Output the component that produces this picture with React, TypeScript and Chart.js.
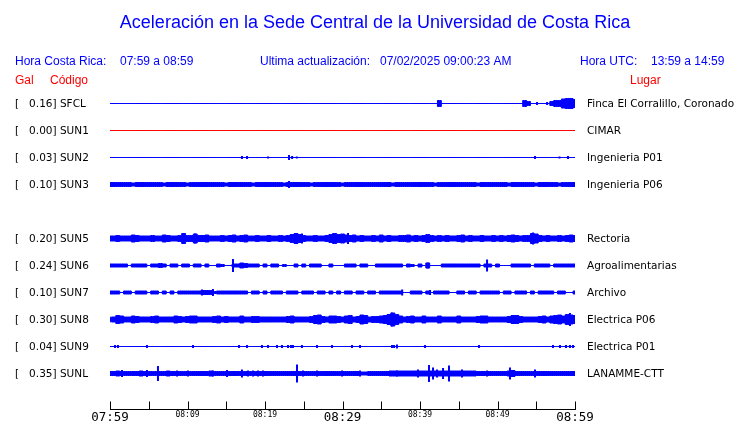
import { useEffect, useRef } from 'react';
import { Chart, registerables } from 'chart.js';

Chart.register(...registerables);

// ---------- text ----------
const TITLE = 'Aceleración en la Sede Central de la Universidad de Costa Rica';
const HDR_LOCAL_LABEL = 'Hora Costa Rica:';
const HDR_LOCAL_RANGE = '07:59 a 08:59';
const HDR_UPDATE_LABEL = 'Ultima actualización:';
const HDR_UPDATE_VALUE = '07/02/2025 09:00:23 AM';
const HDR_UTC_LABEL = 'Hora UTC:';
const HDR_UTC_RANGE = '13:59 a 14:59';
const COL_GAL = 'Gal';
const COL_CODE = 'Código';
const COL_PLACE = 'Lugar';

// ---------- stations ----------
const STATIONS = ['SFCL', 'SUN1', 'SUN2', 'SUN3', 'SUN5', 'SUN6', 'SUN7', 'SUN8', 'SUN9', 'SUNL'];
const PEAK_GAL = ['0.16', '0.00', '0.03', '0.10', '0.20', '0.24', '0.10', '0.30', '0.04', '0.35'];
const PLACES = ['Finca El Corralillo, Coronado', 'CIMAR', 'Ingenieria P01', 'Ingenieria P06', 'Rectoria',
  'Agroalimentarias', 'Archivo', 'Electrica P06', 'Electrica P01', 'LANAMME-CTT'];
const ROWS = [0, 1, 2, 3, 5, 6, 7, 8, 9, 10];
const TRACE_COLORS = ['#0000ff', '#ff0000', '#0000ff', '#0000ff', '#0000ff', '#0000ff', '#0000ff', '#0000ff', '#0000ff', '#0000ff'];

// ---------- time axis (minutes after 07:59) ----------
const TICK_MINUTES = [0, 5, 10, 15, 20, 25, 30, 35, 40, 45, 50, 55, 60];
const TICK_LABELS = ['07:59', '', '08:09', '', '08:19', '', '08:29', '', '08:39', '', '08:49', '', '08:59'];
const MAJOR_TICKS = ['07:59', '08:29', '08:59'];
const SAMPLE_STEP_MIN = 0.5;

// ---------- envelopes (half amplitude, trace units) sampled every 0.5 min ----------
const SFCL_AMP = [
  0, 0, 0, 0, 0, 0, 0, 0, 0, 0,
  0, 0, 0, 0, 0, 0, 0, 0, 0, 0,
  0, 0, 0, 0, 0, 0, 0, 0, 0, 0,
  0, 0, 0, 0, 0, 0, 0, 0, 0, 0,
  0, 0, 0, 0, 0, 0, 0, 0, 0, 0,
  0, 0, 0, 0, 0, 0, 0, 0, 0, 0,
  0, 0, 0, 0, 0, 0, 0, 0, 0, 0,
  0, 0, 0, 0, 0, 0, 0, 0, 0, 0,
  0, 0, 0, 0, 0, 3, 0, 0, 0, 0,
  0, 0, 0, 0, 0, 0, 0, 0, 0, 0,
  0, 0, 0, 0, 0, 0, 0, 3, 2, 0,
  0, 0, 0, 0, 2, 3, 3, 4.5, 5, 5,
  4,
];
const SUN1_AMP = [
  0, 0, 0, 0, 0, 0, 0, 0, 0, 0,
  0, 0, 0, 0, 0, 0, 0, 0, 0, 0,
  0, 0, 0, 0, 0, 0, 0, 0, 0, 0,
  0, 0, 0, 0, 0, 0, 0, 0, 0, 0,
  0, 0, 0, 0, 0, 0, 0, 0, 0, 0,
  0, 0, 0, 0, 0, 0, 0, 0, 0, 0,
  0, 0, 0, 0, 0, 0, 0, 0, 0, 0,
  0, 0, 0, 0, 0, 0, 0, 0, 0, 0,
  0, 0, 0, 0, 0, 0, 0, 0, 0, 0,
  0, 0, 0, 0, 0, 0, 0, 0, 0, 0,
  0, 0, 0, 0, 0, 0, 0, 0, 0, 0,
  0, 0, 0, 0, 0, 0, 0, 0, 0, 0,
  0,
];
const SUN2_AMP = [
  0, 0, 0, 0, 0, 0, 0, 0, 0, 0,
  0, 0, 0, 0, 0, 0, 0, 0, 0, 0,
  0, 0, 0, 0, 0, 0, 0, 0, 0, 0,
  0, 0, 0, 0, 0, 0, 0, 0, 0, 0,
  0, 0, 0, 0, 0, 0, 0, 0, 0, 0,
  0, 0, 0, 0, 0, 0, 0, 0, 0, 0,
  0, 0, 0, 0, 0, 0, 0, 0, 0, 0,
  0, 0, 0, 0, 0, 0, 0, 0, 0, 0,
  0, 0, 0, 0, 0, 0, 0, 0, 0, 0,
  0, 0, 0, 0, 0, 0, 0, 0, 0, 0,
  0, 0, 0, 0, 0, 0, 0, 0, 0, 0,
  0, 0, 0, 0, 0, 0, 0, 0, 0, 0,
  0,
];
const SUN3_AMP = [
  2, 2, 2, 2, 2, 2, 1.5, 2, 2, 2,
  2, 2, 2, 2, 1.5, 2, 2, 2, 2, 2,
  1.5, 2, 2, 2, 2, 2, 2, 2, 2, 2,
  1.5, 2, 2, 2, 2, 2, 2, 1.5, 2, 2,
  2, 2, 2, 2, 2, 1.5, 2, 2, 2, 2,
  2, 2, 1.5, 2, 2, 2, 2, 2, 2, 2,
  1.5, 2, 2, 2, 2, 2, 2, 2, 2, 2,
  2, 2, 2, 1.5, 2, 2, 2, 2, 2, 2,
  2, 2, 2, 2, 1.5, 2, 2, 2, 2, 2,
  2, 2, 2, 2, 2, 1.5, 2, 2, 2, 2,
  2, 2, 2, 1.5, 2, 2, 2, 2, 2, 2,
  1.5, 2, 2, 2, 2, 2, 1.5, 2, 2, 2,
  2,
];
const SUN5_AMP = [
  2.5, 2.5, 3, 2.5, 2.5, 2.5, 3.5, 3, 2.5, 2.5,
  2.5, 3, 2.5, 2.5, 3.5, 3, 2.5, 2.5, 3, 5,
  3, 3, 4.5, 3, 3, 3.5, 2.5, 2.5, 2.5, 3,
  2.5, 3, 3.5, 2.5, 3, 3.5, 2.5, 2.5, 3, 2.5,
  2.5, 3, 2.5, 2.5, 3, 2.5, 3, 4, 5, 4,
  3, 2.5, 2.5, 3, 2.5, 2.5, 3, 4, 5, 4,
  4.5, 3.5, 3, 3.5, 2.5, 3, 2.5, 2.5, 3, 2.5,
  3.5, 2.5, 3, 2.5, 2.5, 3, 3, 3.5, 2.5, 3,
  2.5, 3, 4, 3, 2.5, 3, 2.5, 3, 2.5, 2.5,
  3, 3.5, 2.5, 3, 2.5, 2.5, 3, 2.5, 2.5, 3,
  2.5, 3, 2.5, 3, 3.5, 3, 2.5, 3, 3, 5,
  4.5, 3, 2.5, 3, 2.5, 2.5, 3, 2.5, 3, 3.5,
  3,
];
const SUN6_AMP = [
  1.5, 1.5, 1.5, 1.5, 1.5, 0, 1.5, 1.5, 1.5, 1.5,
  0, 1.5, 1.5, 2, 1.5, 0, 1.5, 1.5, 0, 1.5,
  1.5, 0, 1.5, 1.5, 0, 1.5, 0, 0, 1.5, 1,
  0, 0, 1.5, 1.5, 2.5, 2, 1.5, 1.5, 1.5, 0,
  1.5, 0, 1.5, 1.5, 0, 1, 0, 0, 1.5, 0,
  1.5, 0, 1.5, 1.5, 1.5, 0, 0, 1.5, 0, 0,
  0, 1.5, 1.5, 1.5, 0, 1.5, 1.5, 0, 0, 1.5,
  1.5, 1.5, 1.5, 1.5, 1.5, 1.5, 0, 1.5, 1, 0,
  1.5, 0, 2.5, 0, 0, 0, 1.5, 1.5, 1.5, 1.5,
  1.5, 1.5, 1.5, 1.5, 1.5, 1.5, 0, 1.5, 1.5, 0,
  1.5, 0, 0, 0, 1.5, 1.5, 1.5, 1.5, 1.5, 0,
  1.5, 1.5, 1.5, 1.5, 0, 1.5, 1.5, 1.5, 1.5, 1.5,
  1.5,
];
const SUN7_AMP = [
  1.5, 1.5, 1.5, 0, 1.5, 1.5, 0, 1.5, 1.5, 1.5,
  0, 1.5, 1.5, 0, 1.5, 0, 1.5, 0, 1.5, 1.5,
  1.5, 1.5, 1.5, 1.5, 2, 2, 2, 1, 1.5, 1.5,
  1.5, 1.5, 1.5, 1.5, 1.5, 1.5, 0, 1.5, 1.5, 0,
  1.5, 0, 1.5, 1.5, 1.5, 0, 1.5, 1.5, 1.5, 0,
  1.5, 1.5, 1.5, 0, 1.5, 1.5, 0, 1.5, 0, 1.5,
  0, 1.5, 1.5, 0, 1.5, 1.5, 0, 1.5, 1.5, 0,
  1.5, 1.5, 1.5, 1.5, 1.5, 1.5, 0, 0, 1.5, 1.5,
  1.5, 0, 1.5, 0, 1.5, 1.5, 1.5, 1.5, 0, 0,
  1.5, 1.5, 0, 1.5, 1.5, 0, 1.5, 1.5, 1.5, 1.5,
  1.5, 0, 1.5, 1.5, 0, 1.5, 1.5, 1.5, 0, 1.5,
  0, 1.5, 1.5, 1.5, 1.5, 0, 1.5, 1.5, 0, 0,
  1.5,
];
const SUN8_AMP = [
  2.3, 2.5, 4, 3.5, 2.5, 2.5, 3.5, 3, 2.5, 2.5,
  2.5, 3, 3.5, 2.5, 2.5, 2.5, 2.5, 3.5, 3, 2.5,
  3, 3.5, 3.5, 2.5, 2.5, 2.5, 2.5, 3, 3.5, 2.5,
  3, 2.5, 2.5, 2.5, 3.5, 2.5, 2.5, 3, 3, 2.5,
  2.5, 2.5, 2.5, 2.5, 2.5, 2.5, 3, 3.5, 2.5, 2.5,
  2.5, 2.5, 3, 4, 4.5, 3, 2.5, 3.5, 3.5, 3,
  2.5, 3.5, 4, 2.5, 3, 4.5, 4, 2.5, 3, 3,
  3.5, 4, 5, 6.5, 5, 3.5, 2.5, 3, 3.5, 2.5,
  2.5, 3.5, 2.5, 2.5, 2.5, 3.5, 2.5, 2.5, 2.5, 2.5,
  3.5, 2.5, 2.5, 2.5, 2.5, 3, 3.5, 3.5, 2.5, 2.5,
  2.5, 2.5, 2.5, 3, 4, 4, 3, 2.5, 2.5, 2.5,
  2.5, 3, 3.5, 2.5, 3.5, 4, 4.5, 3.5, 5, 4.5,
  4,
];
const SUN9_AMP = [
  0, 0, 0, 0, 0, 0, 0, 0, 0, 0,
  0, 0, 0, 0, 0, 0, 0, 0, 0, 0,
  0, 0, 0, 0, 0, 0, 0, 0, 0, 0,
  0, 0, 0, 0, 0, 0, 0, 0, 0, 0,
  0, 0, 0, 0, 0, 0, 0, 0, 0, 0,
  0, 0, 0, 0, 0, 0, 0, 0, 0, 0,
  0, 0, 0, 0, 0, 0, 0, 0, 0, 0,
  0, 0, 0, 0, 0, 0, 0, 0, 0, 0,
  0, 0, 0, 0, 0, 0, 0, 0, 0, 0,
  0, 0, 0, 0, 0, 0, 0, 0, 0, 0,
  0, 0, 0, 0, 0, 0, 0, 0, 0, 0,
  0, 0, 0, 0, 0, 0, 0, 0, 0, 0,
  0,
];
const SUNL_AMP = [
  2, 2, 2.5, 2, 2, 2, 2, 2, 2.5, 2,
  2, 2, 2, 2, 2, 2.5, 2, 2, 2, 2,
  2, 2, 2, 2, 2, 2, 2.5, 2, 2, 2,
  2, 2, 2, 2, 2, 2, 2, 2, 2, 2,
  2, 2, 2, 2, 2, 2, 2, 2, 2, 2,
  2, 2, 2, 2, 2, 2, 2, 2, 2, 2,
  2, 2, 2, 2, 2, 1.5, 1.5, 2, 2, 2,
  2, 2, 2, 2.5, 2.5, 2.5, 2.5, 2.5, 2.5, 2.5,
  2.5, 2.5, 2.5, 2.5, 2.5, 2.5, 2.5, 2.5, 2.5, 2.5,
  2.5, 2.5, 2.5, 2.5, 2.5, 2, 2, 2, 2, 2,
  2, 2, 2, 2.5, 3, 2, 2, 2, 2, 2,
  2, 2, 2, 2, 2, 2, 2, 2, 2, 2,
  2,
];

// ---------- short transients: [minute, half amplitude] ----------
const SFCL_SPIKES = [[55.1, 1.5], [56.4, 1.5]];
const SUN1_SPIKES: number[][] = [];
const SUN2_SPIKES = [[17.03, 1.5], [17.68, 1.5], [20.4, 1], [23.1, 2.5], [23.5, 1.5], [24.1, 1], [54.84, 1.5], [58.0, 1], [59.1, 1.5]];
const SUN3_SPIKES = [[23.1, 3.5]];
const SUN5_SPIKES = [[9.42, 5.5], [10.97, 5], [24.77, 5], [28.77, 5], [30.71, 5.5], [54.58, 6]];
const SUN6_SPIKES = [[15.87, 6.5], [48.65, 6], [41.0, 3]];
const SUN7_SPIKES = [[11.87, 3], [13.29, 3.5], [37.7, 3], [41.3, 2.5]];
const SUN8_SPIKES = [[1.0, 4], [26.45, 4.5], [36.35, 7], [59.35, 6.5]];
const SUN9_SPIKES = [[0.65, 1.5], [1.03, 1.5], [4.77, 1.5], [10.71, 1.5], [16.65, 1.5], [17.68, 1.5], [19.61, 1.5],
  [20.39, 1.5], [21.55, 1.5], [22.19, 1.5], [22.97, 1.5], [23.35, 1.5], [23.61, 1.5], [24.77, 1.5], [26.71, 1.5],
  [28.65, 1.5], [31.23, 1.5], [32.26, 1.5], [36.39, 1.5], [36.65, 1.5], [37.03, 2], [40.65, 1.5], [47.61, 1.5],
  [57.16, 1.5], [58.06, 1.5], [58.84, 1.5], [59.35, 1.5], [59.74, 1.5]];
const SUNL_SPIKES = [[1.55, 3.5], [2.97, 2.5], [4.77, 3.5], [6.19, 7.5], [8.65, 3], [10.06, 3], [13.29, 3], [15.1, 3.5],
  [17.03, 4], [17.81, 3], [18.45, 3], [19.1, 3], [19.74, 3], [24.13, 9], [24.9, 3], [26.71, 3], [29.94, 3], [32.26, 3],
  [36.13, 3], [37.03, 3], [39.74, 4], [41.16, 8.5], [41.68, 6], [42.19, 4], [42.97, 5.5], [43.74, 8], [45.42, 4],
  [48.65, 3], [51.61, 6], [54.84, 4]];

const AMPS = [SFCL_AMP, SUN1_AMP, SUN2_AMP, SUN3_AMP, SUN5_AMP, SUN6_AMP, SUN7_AMP, SUN8_AMP, SUN9_AMP, SUNL_AMP];
const SPIKES = [SFCL_SPIKES, SUN1_SPIKES, SUN2_SPIKES, SUN3_SPIKES, SUN5_SPIKES, SUN6_SPIKES, SUN7_SPIKES, SUN8_SPIKES, SUN9_SPIKES, SUNL_SPIKES];

// one trace unit expressed in row spacings
const TRACE_SCALE = 1 / 27;

function buildDatasets() {
  const ds: any[] = [];
  STATIONS.forEach((_, k) => {
    const row = ROWS[k];
    const color = TRACE_COLORS[k];
    const amps = AMPS[k];
    ds.push({
      data: amps.map((a, i) => ({ x: i * SAMPLE_STEP_MIN, y: row - a * TRACE_SCALE })),
      borderColor: color, borderWidth: 1, pointRadius: 0, stepped: 'middle', fill: false,
    });
    ds.push({
      data: amps.map((a, i) => ({ x: i * SAMPLE_STEP_MIN, y: row + a * TRACE_SCALE })),
      borderColor: color, backgroundColor: color, borderWidth: 1, pointRadius: 0, stepped: 'middle', fill: '-1',
    });
    const sp = SPIKES[k];
    if (sp.length) {
      ds.push({
        data: sp.map(([m, a]) => ({ x: m, y: row, a })),
        showLine: false,
        pointStyle: 'line',
        pointRotation: 90,
        pointBorderColor: color,
        pointBackgroundColor: color,
        pointBorderWidth: 2,
        pointRadius: (c: any) => {
          const ys = c.chart.scales.y;
          const raw = c.raw;
          if (!raw || !ys) return 0;
          return Math.abs(ys.getPixelForValue(raw.y + raw.a * TRACE_SCALE) - ys.getPixelForValue(raw.y));
        },
      });
    }
  });
  return ds;
}

const overlayPlugin = {
  id: 'overlay',
  beforeDraw(chart: any) {
    const ctx = chart.ctx;
    ctx.save();
    ctx.fillStyle = '#ffffff';
    ctx.fillRect(0, 0, chart.width, chart.height);
    ctx.restore();
  },
  afterDraw(chart: any) {
    const ctx = chart.ctx;
    const xs = chart.scales.x;
    const ys = chart.scales.y;
    const area = chart.chartArea;
    ctx.save();
    // title
    ctx.fillStyle = '#0000ff';
    ctx.textBaseline = 'alphabetic';
    ctx.textAlign = 'center';
    ctx.font = '18px "Liberation Sans", Arial, sans-serif';
    ctx.fillText(TITLE, 375, 28);
    // header
    ctx.textAlign = 'left';
    ctx.font = '12px "Liberation Sans", Arial, sans-serif';
    ctx.fillText(HDR_LOCAL_LABEL, 15, 65);
    ctx.fillText(HDR_LOCAL_RANGE, 120, 65);
    ctx.fillText(HDR_UPDATE_LABEL, 260, 65);
    ctx.fillText(HDR_UPDATE_VALUE, 380, 65);
    ctx.fillText(HDR_UTC_LABEL, 580, 65);
    ctx.fillText(HDR_UTC_RANGE, 651, 65);
    ctx.fillStyle = '#ff0000';
    ctx.fillText(COL_GAL, 15, 84);
    ctx.fillText(COL_CODE, 50, 84);
    ctx.fillText(COL_PLACE, 630, 84);
    // row labels
    ctx.fillStyle = '#000000';
    ctx.font = '10.5px "DejaVu Sans", sans-serif';
    ctx.textBaseline = 'middle';
    STATIONS.forEach((s, k) => {
      const py = ys.getPixelForValue(ROWS[k]) + 1;
      ctx.textAlign = 'left';
      ctx.fillText('[   ' + PEAK_GAL[k] + '] ' + s, 15, py);
      ctx.fillText(PLACES[k], 587, py);
    });
    // time axis
    const axisY = area.bottom;
    ctx.strokeStyle = '#000000';
    ctx.lineWidth = 1;
    ctx.beginPath();
    ctx.moveTo(xs.getPixelForValue(TICK_MINUTES[0]), axisY);
    ctx.lineTo(xs.getPixelForValue(TICK_MINUTES[TICK_MINUTES.length - 1]) + 1, axisY);
    TICK_MINUTES.forEach((m) => {
      const px = Math.round(xs.getPixelForValue(m)) + 0.5;
      ctx.moveTo(px, axisY);
      ctx.lineTo(px, axisY - 8);
    });
    ctx.stroke();
    ctx.textAlign = 'center';
    ctx.textBaseline = 'top';
    TICK_MINUTES.forEach((m, i) => {
      const lbl = TICK_LABELS[i];
      if (!lbl) return;
      const px = xs.getPixelForValue(m);
      if (MAJOR_TICKS.includes(lbl)) {
        ctx.font = '12.5px "DejaVu Sans Mono", monospace';
        ctx.fillText(lbl, px, 411);
      } else {
        ctx.font = '8px "DejaVu Sans Mono", monospace';
        ctx.fillText(lbl, px, 411);
      }
    });
    ctx.restore();
  },
};

export default function App() {
  const ref = useRef<HTMLCanvasElement | null>(null);
  useEffect(() => {
    if (!ref.current) return;
    const chart = new Chart(ref.current, {
      type: 'line',
      data: { datasets: buildDatasets() },
      options: {
        animation: false,
        responsive: false,
        devicePixelRatio: 1,
        events: [],
        layout: { padding: { left: 110, right: 165, top: 76.5, bottom: 13.5 } },
        plugins: { legend: { display: false }, tooltip: { enabled: false }, title: { display: false } },
        scales: {
          x: { type: 'linear', min: 0, max: 60, display: false },
          y: { type: 'linear', min: -1, max: 10 + 36 / 27, reverse: true, display: false },
        },
      },
      plugins: [overlayPlugin],
    });
    return () => chart.destroy();
  }, []);
  return (
    <div style={{ position: 'fixed', left: 0, top: 0, width: 740, height: 423, background: '#fff' }}>
      <canvas ref={ref} width={740} height={423} style={{ display: 'block', width: 740, height: 423 }} />
    </div>
  );
}
